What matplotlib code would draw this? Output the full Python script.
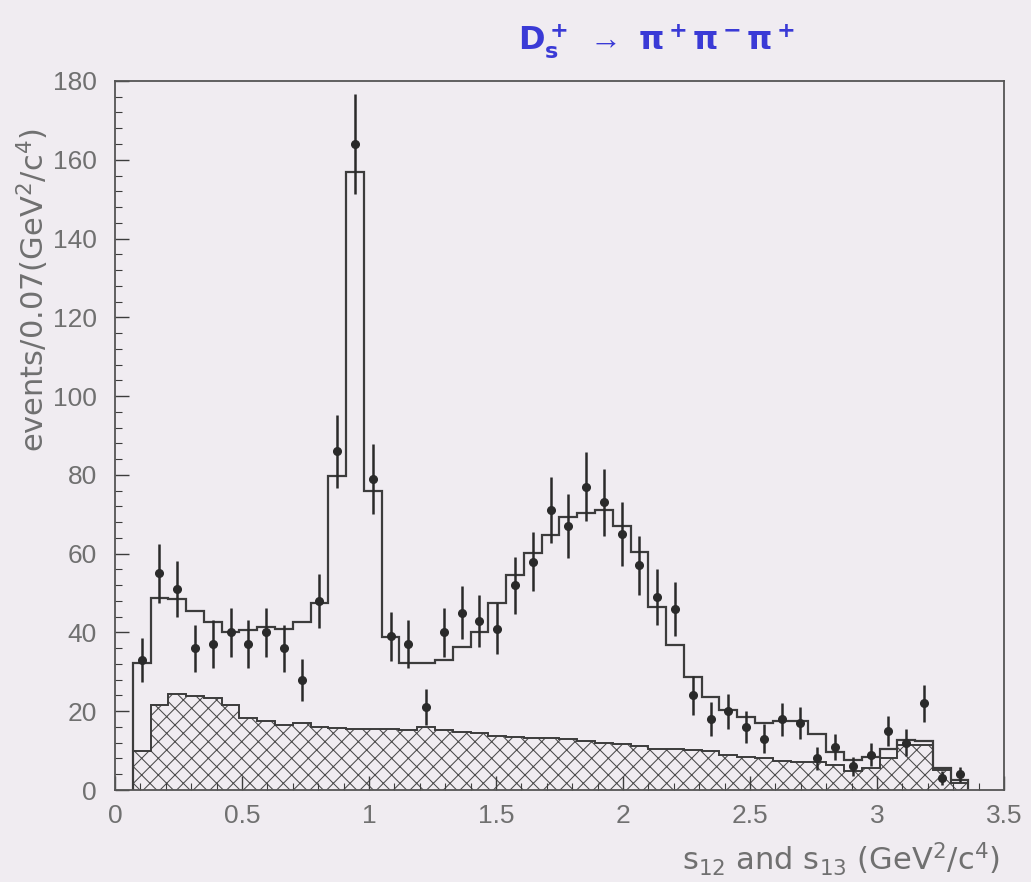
import numpy as np
import matplotlib
matplotlib.use("Agg")
import matplotlib.pyplot as plt
from matplotlib.ticker import AutoMinorLocator

# Binning: 0.07 GeV^2/c^4 bins starting at 0.07
bin_start = 0.07
bin_width = 0.07
n_bins = 47

# Measured events per bin (s12 and s13 combined)
data_counts = [33, 55, 51, 36, 37, 40, 37, 40, 36, 28,
               48, 86, 164, 79, 39, 37, 21, 40, 45, 43,
               41, 52, 58, 71, 67, 77, 73, 65, 57, 49,
               46, 24, 18, 20, 16, 13, 18, 17, 8, 11,
               6, 9, 15, 12, 22, 3, 4]
data_errors = [5.7, 7.4, 7.1, 6.0, 6.1, 6.3, 6.1, 6.3, 6.0, 5.3,
               6.9, 9.3, 12.8, 8.9, 6.2, 6.1, 4.6, 6.3, 6.7, 6.6,
               6.4, 7.2, 7.6, 8.4, 8.2, 8.8, 8.5, 8.1, 7.5, 7.0,
               6.8, 4.9, 4.3, 4.4, 4.0, 3.7, 4.2, 4.1, 2.8, 3.3,
               2.4, 2.9, 3.9, 3.4, 4.7, 1.7, 1.9]

# Fit projection (open histogram)
fit_counts = [32.3, 48.8, 48.5, 45.5, 42.7, 40.2, 40.5, 41.5, 41.0, 42.7,
              47.5, 79.7, 157.0, 76.0, 38.9, 32.2, 32.3, 33.0, 36.4, 40.2,
              47.4, 54.6, 60.1, 64.7, 69.4, 70.3, 71.0, 67.0, 60.5, 46.5,
              36.8, 28.8, 23.6, 20.3, 18.5, 17.0, 17.5, 17.5, 14.3, 9.6,
              7.6, 8.4, 10.5, 12.6, 12.4, 5.6, 2.5]

# Background contribution (hatched histogram)
bkg_counts = [10.0, 21.6, 24.3, 23.8, 23.4, 21.6, 18.4, 17.6, 16.4, 17.0,
              15.9, 15.8, 15.6, 15.5, 15.4, 15.3, 16.0, 15.2, 14.8, 14.4,
              13.6, 13.4, 13.2, 13.1, 13.0, 12.4, 11.9, 11.6, 11.2, 10.5,
              10.3, 10.1, 9.8, 8.8, 8.5, 8.0, 7.4, 7.2, 7.0, 6.3,
              4.8, 5.5, 8.0, 11.5, 11.5, 5.0, 1.7]

x_ticks = [0, 0.5, 1, 1.5, 2, 2.5, 3, 3.5]
x_tick_labels = ["0", "0.5", "1", "1.5", "2", "2.5", "3", "3.5"]
y_ticks = [0, 20, 40, 60, 80, 100, 120, 140, 160, 180]

edges = bin_start + bin_width * np.arange(n_bins + 1)
centers = 0.5 * (edges[:-1] + edges[1:])

bg = "#f0ecf1"
ink = "#3c3c3c"
label_grey = "#707070"

plt.rcParams["font.family"] = ["Liberation Sans", "DejaVu Sans"]
plt.rcParams["mathtext.default"] = "regular"
plt.rcParams["hatch.color"] = "#4a4a4a"
plt.rcParams["hatch.linewidth"] = 0.75

fig = plt.figure(figsize=(10.31, 8.82), dpi=100, facecolor=bg)
ax = fig.add_axes([0.1115, 0.1043, 0.8623, 0.8039], facecolor=bg)

# Background: cross-hatched filled histogram with outline
ax.stairs(bkg_counts, edges, fill=True, hatch="xx", facecolor="none",
          edgecolor="#4a4a4a", linewidth=0, baseline=0)
ax.stairs(bkg_counts, edges, color=ink, linewidth=1.4, baseline=0)

# Fit result
ax.stairs(fit_counts, edges, color=ink, linewidth=1.6, baseline=0)

# Data with error bars
ax.errorbar(centers, data_counts, yerr=data_errors, fmt="o", color="#2a2a2a",
            markersize=5.5, elinewidth=1.8, capsize=0, zorder=5)

ax.set_xlim(0, 3.5)
ax.set_ylim(0, 180)
ax.set_xticks(x_ticks)
ax.set_xticklabels(x_tick_labels)
ax.set_yticks(y_ticks)
ax.xaxis.set_minor_locator(AutoMinorLocator(5))
ax.yaxis.set_minor_locator(AutoMinorLocator(5))
ax.tick_params(axis="both", which="major", direction="in", length=10,
               width=1.0, color=ink, labelsize=19, labelcolor=label_grey)
ax.tick_params(axis="y", which="major", pad=13)
ax.tick_params(axis="x", which="major", pad=10)
ax.tick_params(axis="both", which="minor", direction="in", length=5,
               width=0.8, color=ink)
for side in ax.spines.values():
    side.set_color("#555555")
    side.set_linewidth(1.3)

ax.text(-0.092, 0.705, "events/0.07(GeV$^2$/c$^4$)", transform=ax.transAxes,
        rotation=90, ha="center", va="center", fontsize=22, color=label_grey,
        family="DejaVu Sans")
fig.text(0.97, 0.026, "s$_{12}$ and s$_{13}$ (GeV$^2$/c$^4$)", ha="right",
         va="center", fontsize=22, color=label_grey, family="DejaVu Sans")

fig.text(0.637, 0.953, r"$\mathbf{D_s^+}\ \rightarrow\ \mathbf{\pi^+\pi^-\pi^+}$",
         ha="center", va="center", fontsize=23, color="#3a3ad6")

fig.savefig("out.png", dpi=100, facecolor=bg)
